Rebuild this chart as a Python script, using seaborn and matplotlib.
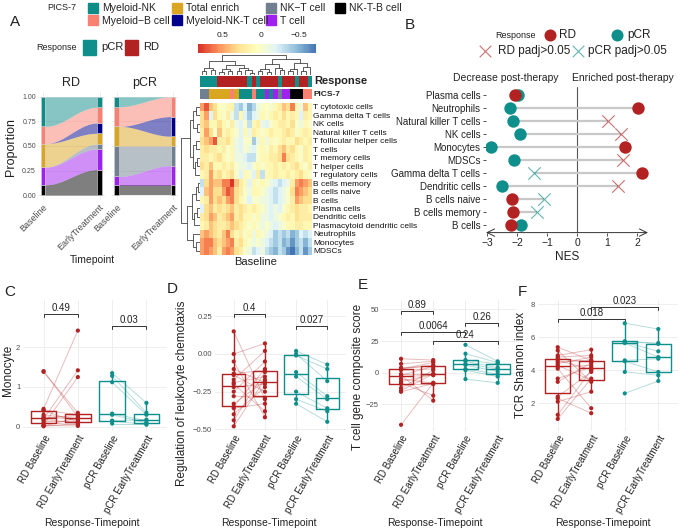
import numpy as np
import pandas as pd
import matplotlib
matplotlib.use("Agg")
import matplotlib.pyplot as plt
import seaborn as sns
from matplotlib.colors import ListedColormap, LinearSegmentedColormap, Normalize
from matplotlib.cm import ScalarMappable

# ======================= DATA =======================
RD_COL, PCR_COL = "#B22222", "#0F8F8B"
RESP_COLORS = {"RD": RD_COL, "pCR": PCR_COL}

# --- PICS-7 categories (legend order) ---
pics_names = ["Myeloid-NK", "Myeloid-B cell", "Total enrich", "Myeloid-NK-T cell",
              "NK-T cell", "T cell", "NK-T-B cell"]
pics_labels = ["Myeloid-NK", "Myeloid\u2212B cell", "Total enrich", "Myeloid-NK-T cell",
               "NK\u2212T cell", "T cell", "NK-T-B cell"]
pics_colors = ["#0E8C88", "#FA8072", "#DAA520", "#00008B", "#708090", "#A020F0", "#000000"]

# --- alluvial proportions, stacked bottom -> top ---
stack_order = ["NK-T-B cell", "T cell", "NK-T cell", "Total enrich",
               "Myeloid-NK-T cell", "Myeloid-B cell", "Myeloid-NK"]
rd_base_prop = [0.105, 0.18, 0.00, 0.24, 0.00, 0.175, 0.30]
rd_early_prop = [0.26, 0.21, 0.05, 0.11, 0.105, 0.16, 0.105]
pcr_base_prop = [0.10, 0.09, 0.31, 0.20, 0.00, 0.20, 0.10]
pcr_early_prop = [0.10, 0.20, 0.20, 0.10, 0.20, 0.20, 0.00]
timepoints = ["Baseline", "EarlyTreatment"]

# --- heatmap ---
heat_rows = ["T cytotoxic cells", "Gamma delta T cells", "NK cells", "Natural killer T cells",
             "T follicular helper cells", "T cells", "T memory cells", "T helper cells",
             "T regulatory cells", "B cells memory", "B cells naive", "B cells", "Plasma cells",
             "Dendritic cells", "Plasmacytoid dendritic cells", "Neutrophils", "Monocytes", "MDSCs"]
heat_vals = [
    [0.5, 0.7, 0.4, 0.3, 0.05, 0.0, 0.1, 0.15, -0.3, -0.4, -0.2, -0.5, -0.35, -0.1, 0.0, 0.05, -0.05, 0.1, 0.2, 0.4, 0.3, 0.6, 0.1, -0.1, 0.4, 0.1],
    [0.3, 0.5, -0.2, 0.3, 0.1, 0.0, 0.2, -0.1, -0.3, 0.1, -0.2, -0.4, -0.2, -0.1, 0.1, 0.0, 0.1, 0.2, 0.1, 0.3, 0.1, 0.2, 0.1, -0.2, 0.2, 0.1],
    [0.3, 0.4, 0.1, 0.1, 0.3, 0.1, 0.0, 0.2, -0.1, -0.2, 0.0, -0.3, 0.1, 0.2, -0.1, -0.2, 0.0, 0.1, 0.2, 0.2, 0.1, 0.3, 0.0, -0.1, 0.1, 0.0],
    [0.2, 0.5, 0.3, 0.0, 0.4, 0.1, 0.2, 0.1, 0.0, -0.2, 0.1, -0.1, 0.2, 0.1, 0.0, 0.1, 0.2, 0.1, 0.1, 0.2, 0.3, 0.2, 0.0, 0.1, 0.2, 0.1],
    [0.3, 0.4, 0.5, 0.7, 0.2, 0.2, 0.3, 0.1, -0.1, -0.2, 0.0, 0.0, -0.4, -0.1, 0.1, -0.1, 0.1, 0.0, 0.1, 0.2, 0.1, 0.1, 0.3, 0.2, 0.1, 0.2],
    [0.2, 0.3, 0.2, 0.2, 0.1, 0.2, 0.0, 0.1, -0.1, -0.2, 0.0, -0.1, -0.2, 0.0, 0.1, 0.0, 0.2, 0.1, 0.3, 0.4, 0.2, 0.3, 0.1, 0.0, 0.2, 0.1],
    [0.2, 0.2, 0.1, 0.2, 0.3, 0.1, 0.0, 0.1, -0.1, -0.1, -0.2, -0.3, -0.3, 0.0, 0.1, 0.1, 0.2, 0.2, 0.3, 0.6, 0.3, 0.2, 0.1, 0.0, 0.2, 0.1],
    [0.3, 0.2, 0.4, 0.1, 0.1, 0.2, 0.1, 0.2, 0.0, -0.1, -0.1, -0.2, 0.0, 0.1, 0.0, 0.1, 0.1, 0.2, 0.1, 0.2, 0.1, 0.2, 0.3, 0.1, 0.0, 0.2],
    [0.1, 0.2, 0.5, 0.2, 0.3, 0.1, 0.2, 0.3, 0.0, -0.2, 0.1, 0.0, -0.2, 0.2, -0.3, 0.1, 0.1, 0.2, 0.1, 0.1, 0.2, 0.1, 0.2, 0.3, 0.1, 0.0],
    [-0.3, 0.3, 0.5, 0.4, 0.4, 0.6, 0.6, 0.8, 0.4, 0.2, 0.1, -0.2, 0.1, 0.0, 0.1, 0.0, -0.1, -0.2, -0.3, -0.2, -0.1, 0.2, 0.5, 0.6, 0.5, 0.4],
    [-0.2, 0.4, 0.5, 0.3, 0.3, 0.5, 0.7, 0.6, 0.3, 0.2, 0.0, -0.1, 0.1, 0.1, 0.0, -0.1, -0.2, -0.3, -0.2, -0.1, 0.0, 0.3, 0.6, 0.5, 0.4, 0.3],
    [0.1, 0.2, 0.5, 0.3, 0.4, 0.3, 0.5, 0.6, 0.3, 0.1, 0.0, -0.2, 0.0, 0.0, -0.1, -0.1, -0.2, -0.3, -0.2, -0.1, 0.0, 0.2, 0.5, 0.4, 0.3, 0.3],
    [-0.2, 0.3, 0.4, 0.2, 0.3, 0.2, 0.3, 0.4, 0.2, 0.3, 0.2, 0.1, 0.2, 0.1, 0.0, -0.1, -0.2, -0.1, -0.2, 0.0, 0.1, 0.2, 0.3, 0.2, 0.2, 0.1],
    [0.2, 0.3, 0.5, 0.4, 0.2, 0.3, 0.4, 0.5, 0.2, 0.3, 0.1, 0.1, 0.0, 0.1, -0.1, -0.1, -0.2, -0.1, 0.0, 0.1, 0.2, 0.1, 0.3, 0.2, 0.2, 0.2],
    [0.1, 0.2, 0.4, 0.3, 0.2, 0.2, 0.3, 0.4, 0.3, 0.2, 0.1, 0.0, 0.1, 0.0, -0.1, 0.0, -0.1, -0.2, -0.1, 0.0, 0.1, 0.1, 0.2, 0.2, 0.1, 0.1],
    [0.4, 0.5, 0.4, 0.3, 0.2, 0.4, 0.6, 0.3, 0.1, 0.2, 0.0, 0.1, -0.1, 0.1, 0.0, -0.1, -0.2, -0.4, -0.3, -0.4, -0.3, -0.5, -0.4, -0.2, -0.3, -0.2],
    [0.5, 0.6, 0.6, 0.4, 0.3, 0.4, 0.5, 0.6, 0.2, 0.3, 0.1, 0.0, -0.1, 0.0, -0.1, -0.2, -0.3, -0.4, -0.3, -0.5, -0.4, -0.6, -0.4, -0.3, -0.5, -0.3],
    [0.5, 0.6, 0.5, 0.4, 0.2, 0.5, 0.6, 0.5, 0.3, 0.2, 0.0, -0.1, -0.3, -0.2, -0.1, -0.3, -0.4, -0.5, -0.3, -0.4, -0.6, -0.8, -0.5, -0.3, -0.6, -0.4],
]
resp_cols = (["pCR"] * 4 + ["RD"] * 7 + ["pCR", "RD", "pCR"] + ["RD"] * 4 + ["pCR"]
             + ["RD"] * 3 + ["pCR"] + ["RD"] * 2 + ["pCR"])
pics_cols = (["NK-T cell"] * 2 + ["Total enrich"] * 5 + ["Myeloid-B cell"] + ["Total enrich"]
             + ["Myeloid-NK"] * 3 + ["Myeloid-B cell"] + ["Myeloid-NK"] * 2 + ["T cell"]
             + ["Myeloid-NK"] + ["T cell"] + ["NK-T cell"] + ["T cell"] * 2
             + ["NK-T-B cell"] * 3 + ["Myeloid-B cell"] * 2)
# dendrograms: (height, left, right) / leaf index
row_tree = (1.0, (0.55, (0.35, (0.2, 0, 1), (0.15, 2, 3)),
                  (0.4, (0.2, 4, 5), (0.25, (0.15, 6, 7), 8))),
            (0.7, (0.45, (0.2, (0.1, 9, 10), 11), (0.3, (0.15, 12, 13), 14)),
             (0.35, 15, (0.2, 16, 17))))
col_tree = (1.0,
            (0.7, (0.35, (0.2, 0, 1), (0.25, 2, 3)),
             (0.5, (0.3, (0.15, 4, 5), (0.2, 6, 7)),
              (0.35, (0.2, 8, 9), (0.25, 10, (0.12, 11, 12))))),
            (0.8, (0.55, (0.3, (0.2, 13, 14), (0.15, 15, 16)), (0.35, 17, (0.25, 18, 19))),
             (0.6, (0.3, (0.2, 20, 21), 22), (0.4, (0.2, 23, 24), 25))))

# --- panel B: NES ---
b_cells = ["Plasma cells", "Neutrophils", "Natural killer T cells", "NK cells", "Monocytes",
           "MDSCs", "Gamma delta T cells", "Dendritic cells", "B cells naive",
           "B cells memory", "B cells"]
nes_rd = [-2.08, 2.01, 1.01, 1.46, 1.57, 1.52, 2.16, 1.35, -2.17, -2.13, -2.21]
nes_pcr = [-1.97, -2.22, -2.13, -1.89, -2.87, -2.10, -1.43, -2.49, -1.12, -1.35, -1.88]
sig_rd = [True, True, False, False, True, False, True, False, True, True, True]
sig_pcr = [True, True, True, True, True, True, False, True, False, False, True]

# --- panels C-F: paired values ---
groups = ["RD Baseline", "RD EarlyTreatment", "pCR Baseline", "pCR EarlyTreatment"]
mono_rd_base = [1.38, 1.40, 0.45, 0.42, 0.40, 0.30, 0.25, 0.22, 0.20, 0.18, 0.15, 0.10, 0.05, 0.03, 0.02, 0.01]
mono_rd_early = [0.35, 0.25, 2.42, 0.30, 0.12, 0.20, 0.18, 0.28, 1.42, 0.10, 0.15, 0.05, 1.25, 0.02, 0.22, 0.08]
mono_pcr_base = [1.35, 1.28, 1.12, 0.33, 0.30, 0.15, 0.08, 0.15]
mono_pcr_early = [0.60, 0.35, 0.30, 0.15, 0.10, 0.05, 0.08, 0.18]

chem_rd_base = [0.15, 0.00, -0.05, -0.10, -0.13, -0.14, -0.17, -0.19, -0.20, -0.22, -0.25, -0.28, -0.33, -0.35, -0.36, -0.40, -0.44, -0.48]
chem_rd_early = [-0.30, 0.07, -0.42, -0.19, -0.11, -0.25, 0.02, -0.15, -0.38, -0.20, -0.05, -0.29, -0.18, -0.10, -0.33, -0.22, -0.12, -0.17]
chem_pcr_base = [0.02, 0.00, -0.01, -0.12, -0.15, -0.25, -0.30, -0.33]
chem_pcr_early = [-0.07, -0.18, -0.10, -0.28, -0.30, -0.36, -0.38, -0.45]

tcell_rd_base = [11, 7, 4, 3, 3, 2, -1, -2, -2, -3, -5, -7, -8, -9, -12, -14, -15, -41]
tcell_rd_early = [10, 9, 5, 8, 6, 3, -1, -22, 5, -2, -8, -1.5, -18, -9, 2, -1, -8.5, -8]
tcell_pcr_base = [22, 15, 10, 9, 7, 6, 3, 2, -5]
tcell_pcr_early = [9, 8, 7, 4, 3, 1, -1, -3, -8]

tcr_rd_base = [5.4, 5.2, 4.9, 4.8, 4.7, 4.6, 4.4, 4.3, 4.2, 4.1, 3.5, 3.3, 2.4, 2.3, 2.1, 1.3, 1.05, 4.5]
tcr_rd_early = [4.6, 3.3, 5.25, 4.9, 4.5, 4.05, 4.8, 3.4, 4.3, 1.7, 4.2, 4.45, 3.9, 1.4, 2.7, 4.0, 3.5, 4.6]
tcr_pcr_base = [6.85, 5.75, 5.75, 5.7, 5.65, 4.6, 4.55, 3.9, 2.6]
tcr_pcr_early = [6.5, 5.65, 5.6, 5.15, 4.8, 4.7, 3.9, 3.7, 3.35]

# ======================= FIGURE =======================
sns.set_theme(style="white")
plt.rcParams['font.family'] = ['Liberation Sans', 'DejaVu Sans']
plt.rcParams['axes.unicode_minus'] = True

W, H = 680, 531
fig = plt.figure(figsize=(W / 100, H / 100), dpi=100)
GRID = "#EBEBEB"
TXT = "#222222"
TICK = "#4D4D4D"


def ax_px(x0, y0, x1, y1):
    return fig.add_axes([x0 / W, 1 - y1 / H, (x1 - x0) / W, (y1 - y0) / H])


def ftxt(x, y, s, **kw):
    kw.setdefault("color", TXT)
    return fig.text(x / W, 1 - y / H, s, **kw)


# ---------------- Panel A: legends ----------------
ftxt(15, 22, "A", fontsize=11, ha="center", va="center")
ftxt(62, 8, "PICS-7", fontsize=6.5, ha="center", va="center")
leg_pos = [(88, 3), (88, 15.5), (172, 3), (172, 15.5), (266, 3), (266, 15.5), (335, 3)]
for (lx, ly), lab, col in zip(leg_pos, pics_labels, pics_colors):
    fig.patches.append(plt.Rectangle((lx / W, 1 - (ly + 10) / H), 10 / W, 10 / H,
                                     color=col, transform=fig.transFigure, figure=fig))
    ftxt(lx + 14, ly + 5, lab, fontsize=7.5, ha="left", va="center")
ftxt(57, 47, "Response", fontsize=6.5, ha="center", va="center")
for lx, lab, col in [(83, "pCR", PCR_COL), (125, "RD", RD_COL)]:
    fig.patches.append(plt.Rectangle((lx / W, 1 - 55 / H), 13 / W, 15 / H,
                                     color=col, transform=fig.transFigure, figure=fig))
    ftxt(lx + 18, 47.5, lab, fontsize=8, ha="left", va="center")

# ---------------- Panel A: alluvial ----------------
stack_colors = [pics_colors[pics_names.index(n)] for n in stack_order]


def alluvial(ax, base, early, title, show_y):
    base = np.asarray(base, float)
    early = np.asarray(early, float)
    bw = 0.08
    b0 = np.concatenate([[0], np.cumsum(base)[:-1]])
    b1 = np.concatenate([[0], np.cumsum(early)[:-1]])
    xs = np.linspace(1 + bw / 2, 2 - bw / 2, 80)
    s = (1 - np.cos(np.pi * (xs - xs[0]) / (xs[-1] - xs[0]))) / 2
    for k in range(len(base)):
        lo = b0[k] + (b1[k] - b0[k]) * s
        hi = b0[k] + base[k] + (b1[k] + early[k] - b0[k] - base[k]) * s
        ax.fill_between(xs, lo, hi, color=stack_colors[k], alpha=0.5, lw=0, zorder=2)
    ax.bar([1] * len(base), base, bottom=b0, width=bw, color=stack_colors,
           edgecolor="#D0D0D0", lw=0.4, zorder=3)
    ax.bar([2] * len(early), early, bottom=b1, width=bw, color=stack_colors,
           edgecolor="#D0D0D0", lw=0.4, zorder=3)
    ax.set_xlim(0.91, 2.09)
    ax.set_ylim(-0.05, 1.05)
    ax.set_xticks([1, 2])
    ax.set_xticklabels(timepoints, rotation=45, ha="right", rotation_mode="anchor",
                       fontsize=6.5, color=TICK)
    ax.set_yticks([0, 0.25, 0.5, 0.75, 1.0])
    if show_y:
        ax.set_yticklabels(["0.00", "0.25", "0.50", "0.75", "1.00"], fontsize=5, color=TICK)
    else:
        ax.set_yticklabels([])
    ax.grid(True, color=GRID, lw=0.6, zorder=0)
    ax.set_axisbelow(True)
    ax.tick_params(length=0, pad=1.5)
    for sp in ax.spines.values():
        sp.set_visible(False)
    ax.set_title(title, fontsize=9, color=TXT, pad=4)


ax_rd = ax_px(38, 92, 104.6, 200)
alluvial(ax_rd, rd_base_prop, rd_early_prop, "RD", True)
ax_pc = ax_px(111.5, 92, 178.1, 200)
alluvial(ax_pc, pcr_base_prop, pcr_early_prop, "pCR", False)
ftxt(11, 147, "Proportion", fontsize=9, rotation=90, ha="center", va="center")
ftxt(92, 260, "Timepoint", fontsize=7.5, ha="center", va="center")

# ---------------- Panel A: heatmap ----------------
rdylbu7 = ["#4575B4", "#91BFDB", "#E0F3F8", "#FFFFBF", "#FEE090", "#FC8D59", "#D73027"]
hm_cmap = LinearSegmentedColormap.from_list("pheat", rdylbu7, N=100)
HV_MIN, HV_MAX = -0.72, 0.82
heat_df = pd.DataFrame(heat_vals, index=heat_rows)

ax_hm = ax_px(200, 102.7, 312, 255)
sns.heatmap(heat_df, ax=ax_hm, cmap=hm_cmap, vmin=HV_MIN, vmax=HV_MAX, cbar=False,
            xticklabels=False, yticklabels=heat_rows)
ax_hm.yaxis.tick_right()
ax_hm.set_yticklabels(heat_rows, rotation=0, fontsize=6, color="#111111")
ax_hm.tick_params(axis="y", length=0, pad=1)
ax_hm.set_ylabel("")
ax_hm.set_xlabel("")
ftxt(256, 262, "Baseline", fontsize=8, ha="center", va="center")

ax_resp = ax_px(200, 75.7, 312, 86.7)
resp_codes = np.array([[0 if r == "pCR" else 1 for r in resp_cols]])
sns.heatmap(resp_codes, ax=ax_resp, cmap=ListedColormap([PCR_COL, RD_COL]), vmin=-0.5,
            vmax=1.5, cbar=False, xticklabels=False, yticklabels=False)
ftxt(314, 81.5, "Response", fontsize=8, fontweight="bold", ha="left", va="center")

ax_pics = ax_px(200, 89.3, 312, 99.3)
pics_codes = np.array([[pics_names.index(p) for p in pics_cols]])
sns.heatmap(pics_codes, ax=ax_pics, cmap=ListedColormap(pics_colors), vmin=-0.5,
            vmax=len(pics_names) - 0.5, cbar=False, xticklabels=False, yticklabels=False)
ftxt(314, 94.5, "PICS-7", fontsize=6, fontweight="bold", ha="left", va="center")


def draw_tree(ax, node, orient):
    if isinstance(node, int):
        return node + 0.5, 0.0
    h, l, r = node
    pl, hl = draw_tree(ax, l, orient)
    pr, hr = draw_tree(ax, r, orient)
    if orient == "top":
        ax.plot([pl, pl, pr, pr], [hl, h, h, hr], color="#444444", lw=0.6)
    else:
        ax.plot([hl, h, h, hr], [pl, pl, pr, pr], color="#444444", lw=0.6)
    return (pl + pr) / 2, h


ax_cd = ax_px(200, 55, 312, 75)
draw_tree(ax_cd, col_tree, "top")
ax_cd.set_xlim(0, len(resp_cols))
ax_cd.set_ylim(0, 1.02)
ax_cd.axis("off")

ax_rdn = ax_px(181, 102.7, 200, 255)
draw_tree(ax_rdn, row_tree, "left")
ax_rdn.set_ylim(len(heat_rows), 0)
ax_rdn.set_xlim(1.02, 0)
ax_rdn.axis("off")

cax = ax_px(198, 43.5, 316, 52.5)
sm = ScalarMappable(norm=Normalize(vmin=HV_MIN, vmax=HV_MAX), cmap=hm_cmap)
cb = fig.colorbar(sm, cax=cax, orientation="horizontal")
cax.invert_xaxis()
cb.set_ticks([0.5, 0, -0.5])
cb.set_ticklabels(["0.5", "0", "\u22120.5"])
cax.xaxis.set_ticks_position("top")
cax.tick_params(labelsize=6, length=0, pad=3, colors=TXT)
cb.outline.set_visible(False)

# ---------------- Panel B ----------------
ftxt(410, 25, "B", fontsize=11, ha="center", va="center")
ax_leg = ax_px(470, 25, 680, 62)
ax_leg.set_xlim(470, 680)
ax_leg.set_ylim(62, 25)
ax_leg.axis("off")
ax_leg.text(515, 35, "Response", fontsize=6.5, ha="center", va="center", color=TXT)
ax_leg.scatter([550], [35], s=75, color=RD_COL, lw=0)
ax_leg.text(559, 35, "RD", fontsize=8.5, ha="left", va="center", color=TXT)
ax_leg.scatter([617], [35], s=75, color=PCR_COL, lw=0)
ax_leg.text(627, 35, "pCR", fontsize=8.5, ha="left", va="center", color=TXT)
ax_leg.scatter([485], [51], s=70, marker="x", color=RD_COL, alpha=0.65, lw=0.8)
ax_leg.text(498, 51, "RD padj>0.05", fontsize=8.5, ha="left", va="center", color=TXT)
ax_leg.scatter([578], [51], s=70, marker="x", color=PCR_COL, alpha=0.65, lw=0.8)
ax_leg.text(588, 51, "pCR padj>0.05", fontsize=8.5, ha="left", va="center", color=TXT)

ax_b = ax_px(486, 87.4, 648, 232.6)
bdf = pd.DataFrame({"cell": b_cells, "RD": nes_rd, "pCR": nes_pcr,
                    "sig_rd": sig_rd, "sig_pcr": sig_pcr})
ypos = np.arange(len(b_cells))
ax_b.hlines(ypos, bdf["RD"], bdf["pCR"], color="#C8C8C8", lw=1.6, zorder=1)
ax_b.axvline(0, color="#555555", lw=0.8, zorder=0)
for col, sig, c in [("pCR", "sig_pcr", PCR_COL), ("RD", "sig_rd", RD_COL)]:
    m = bdf[sig].values
    ax_b.scatter(bdf[col][m], ypos[m], s=80, color=c, lw=0, zorder=3)
    ax_b.scatter(bdf[col][~m], ypos[~m], s=80, marker="x", color=c, alpha=0.65, lw=0.8, zorder=3)
ax_b.set_xlim(-3.03, 2.35)
ax_b.set_ylim(len(b_cells) - 0.45, -0.55)
ax_b.set_yticks(ypos)
ax_b.set_yticklabels(b_cells, fontsize=7, color=TXT)
ax_b.set_xticks([-3, -2, -1, 0, 1, 2])
ax_b.set_xticklabels(["\u22123", "\u22122", "\u22121", "0", "1", "2"], fontsize=7.5, color=TXT)
ax_b.tick_params(axis="both", length=2.5, width=0.6, color="#333333", pad=1.5)
ax_b.tick_params(axis="y", left=True)
ax_b.tick_params(axis="x", bottom=True)
for sp in ax_b.spines.values():
    sp.set_visible(False)
ax_b.annotate("", xy=(1.0, 0), xytext=(0.0, 0), xycoords="axes fraction",
              arrowprops=dict(arrowstyle="<->,head_length=0.45,head_width=0.22",
                              lw=0.7, color="#333333", shrinkA=0, shrinkB=0))
ax_b.set_xlabel("NES", fontsize=8.5, color=TXT, labelpad=2)
ftxt(506, 78, "Decrease post-therapy", fontsize=7.5, ha="center", va="center")
ftxt(623, 78, "Enriched post-therapy", fontsize=7.5, ha="center", va="center")


# ---------------- Panels C-F ----------------
def box_panel(ax, rb, re, pb, pe, ylim, yticks, ytl, brackets, ylabel, ylab_xy, xlab_x):
    recs = []
    for g, arr, r in [(groups[0], rb, "RD"), (groups[1], re, "RD"),
                      (groups[2], pb, "pCR"), (groups[3], pe, "pCR")]:
        for v in arr:
            recs.append((g, r, v))
    df = pd.DataFrame(recs, columns=["group", "resp", "value"])
    for a, b, x0, x1, r in [(rb, re, 0, 1, "RD"), (pb, pe, 2, 3, "pCR")]:
        for v0, v1 in zip(a, b):
            ax.plot([x0, x1], [v0, v1], color=RESP_COLORS[r], alpha=0.3, lw=0.7, zorder=1)
    sns.boxplot(data=df, x="group", y="value", hue="resp", order=groups,
                hue_order=["RD", "pCR"], palette=RESP_COLORS, fill=False, showfliers=False,
                showcaps=False, width=0.75, linewidth=1.0, dodge=False, legend=False, ax=ax)
    sns.stripplot(data=df, x="group", y="value", hue="resp", order=groups,
                  hue_order=["RD", "pCR"], palette=RESP_COLORS, jitter=False, size=3,
                  dodge=False, legend=False, ax=ax, zorder=3)
    ax.set_xlim(-0.6, 3.6)
    ax.set_ylim(*ylim)
    ax.set_yticks(yticks)
    ax.set_yticklabels(ytl, fontsize=5.5, color=TICK)
    ax.set_xticks(range(4))
    ax.set_xticklabels(groups, rotation=60, ha="right", rotation_mode="anchor",
                       fontsize=7, color=TXT)
    ax.tick_params(length=0, pad=2)
    ax.grid(True, color=GRID, lw=0.6, zorder=0)
    ax.set_axisbelow(True)
    for sp in ax.spines.values():
        sp.set_visible(False)
    ax.set_xlabel("")
    ax.set_ylabel("")
    span = ylim[1] - ylim[0]
    for x0, x1, yb, lab in brackets:
        d = span * 0.022
        ax.plot([x0, x0, x1, x1], [yb - d, yb, yb, yb - d], color="#333333", lw=0.7,
                clip_on=False)
        ax.text((x0 + x1) / 2, yb + span * 0.008, lab, ha="center", va="bottom",
                fontsize=7, color=TXT, clip_on=False)
    ftxt(ylab_xy[0], ylab_xy[1], ylabel, fontsize=8.5, rotation=90,
         ha="center", va="center")
    ftxt(xlab_x, 523, "Response-Timepoint", fontsize=7.5, ha="center", va="center")


ax_c = ax_px(23, 300, 167, 431)
box_panel(ax_c, mono_rd_base, mono_rd_early, mono_pcr_base, mono_pcr_early,
          (-0.108, 3.19), [0, 1, 2], ["0", "1", "2"],
          [(0, 1, 2.84, "0.49"), (2, 3, 2.54, "0.03")], "Monocyte", (8, 370), 92)
ftxt(10, 292, "C", fontsize=11, ha="center", va="center")

ax_d = ax_px(215, 300, 346, 431)
box_panel(ax_d, chem_rd_base, chem_rd_early, chem_pcr_base, chem_pcr_early,
          (-0.511, 0.358), [-0.5, -0.25, 0, 0.25],
          ["\u22120.50", "\u22120.25", "0.00", "0.25"],
          [(0, 1, 0.265, "0.4"), (2, 3, 0.186, "0.027")],
          "Regulation of leukocyte chemotaxis", (182, 393), 269)
ftxt(172, 289, "D", fontsize=11, ha="center", va="center")

ax_e = ax_px(381.7, 300, 517, 431)
box_panel(ax_e, tcell_rd_base, tcell_rd_early, tcell_pcr_base, tcell_pcr_early,
          (-45.9, 57.3), [-25, 0, 25, 50], ["\u221225", "0", "25", "50"],
          [(0, 1, 48.6, "0.89"), (2, 3, 39.4, "0.26"), (0, 2, 32.3, "0.0064"),
           (1, 3, 25.2, "0.24")],
          "T cell gene composite score", (358, 377), 435)
ftxt(363, 285, "E", fontsize=11, ha="center", va="center")

ax_f = ax_px(537.6, 300, 678.4, 431)
box_panel(ax_f, tcr_rd_base, tcr_rd_early, tcr_pcr_base, tcr_pcr_early,
          (0.32, 8.26), [2, 4, 6, 8], ["2", "4", "6", "8"],
          [(0, 2, 7.09, "0.018"), (1, 3, 7.85, "0.023")],
          "TCR Shannon index", (521, 365), 603)
ftxt(522, 292, "F", fontsize=11, ha="center", va="center")

fig.savefig("out.png", dpi=100)
